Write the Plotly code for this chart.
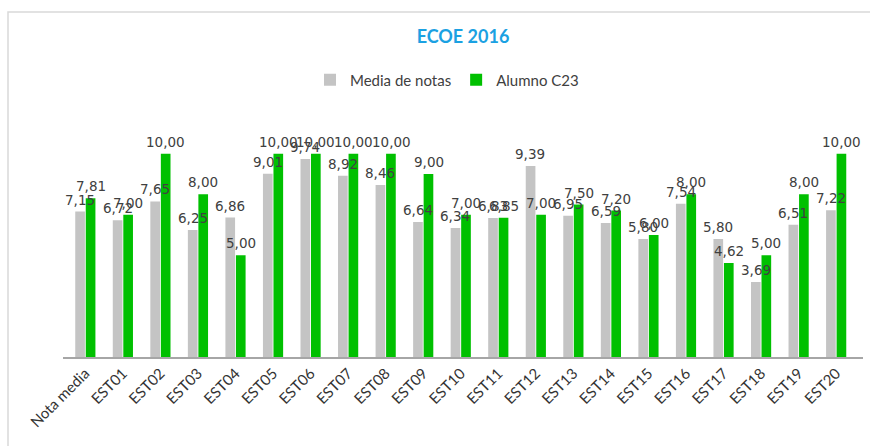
import plotly.graph_objects as go

categories = ["Nota media", "EST01", "EST02", "EST03", "EST04", "EST05", "EST06", "EST07",
              "EST08", "EST09", "EST10", "EST11", "EST12", "EST13", "EST14", "EST15",
              "EST16", "EST17", "EST18", "EST19", "EST20"]
media_notas = [7.15, 6.72, 7.65, 6.25, 6.86, 9.01, 9.74, 8.92, 8.46, 6.64, 6.34,
               6.83, 9.39, 6.95, 6.59, 5.80, 7.54, 5.80, 3.69, 6.51, 7.22]
alumno_c23 = [7.81, 7.00, 10.00, 8.00, 5.00, 10.00, 10.00, 10.00, 10.00, 9.00, 7.00,
              6.85, 7.00, 7.50, 7.20, 6.00, 8.00, 4.62, 5.00, 8.00, 10.00]


def fmt(v):
    return f"{v:.2f}".replace(".", ",")


W, H = 870, 446
ML, MR, MT, MB = 63, 7, 113, 89
PW = W - ML - MR
PH = H - MT - MB

label_font = dict(family="DejaVu Sans", size=13.5, color="#404040")

fig = go.Figure()
fig.add_trace(go.Bar(
    name="Media de notas", x=categories, y=media_notas,
    marker=dict(color="#c4c4c4", line=dict(width=0)), hoverinfo="x+y",
))
fig.add_trace(go.Bar(
    name="Alumno C23", x=categories, y=alumno_c23,
    marker=dict(color="#00c000", line=dict(width=0)), hoverinfo="x+y",
))

# data labels on top of all bars (Excel style: drawn above every series)
cat_w = PW / len(categories)
shift = cat_w * (1 - 0.44) / 4
annotations = []
for c, v in zip(categories, media_notas):
    annotations.append(dict(x=c, y=v, xref="x", yref="y", text=fmt(v), showarrow=False,
                            xanchor="center", yanchor="bottom", xshift=-shift, yshift=2,
                            font=label_font))
for c, v in zip(categories, alumno_c23):
    annotations.append(dict(x=c, y=v, xref="x", yref="y", text=fmt(v), showarrow=False,
                            xanchor="center", yanchor="bottom", xshift=shift, yshift=2,
                            font=label_font))


def px_x(p):
    return (p - ML) / PW


def px_y(p):
    return (H - MB - p) / PH


fig.update_layout(
    width=W, height=H,
    margin=dict(l=ML, r=MR, t=MT, b=MB),
    paper_bgcolor="white", plot_bgcolor="white",
    barmode="group", bargap=0.44, bargroupgap=0.08,
    title=dict(text="<b>ECOE 2016</b>", x=0.5, xref="paper", xanchor="center",
               y=1 - 37 / H, yref="container", yanchor="middle",
               font=dict(family="Lato", size=18, color="#1ba1e2")),
    legend=dict(orientation="h", x=0.48, xanchor="center", y=px_y(80), yanchor="middle",
                font=dict(family="Lato", size=15, color="#404040"),
                traceorder="normal", itemwidth=30, bgcolor="rgba(0,0,0,0)"),
    xaxis=dict(type="category", showline=True, linecolor="#a6a6a6", linewidth=1.5,
               ticks="", tickangle=-45,
               tickfont=dict(family="Lato", size=15, color="#333333"),
               showgrid=False, zeroline=False),
    yaxis=dict(range=[0, 12], showticklabels=False, showgrid=False, zeroline=False,
               showline=False, ticks=""),
    annotations=annotations,
    shapes=[dict(type="rect", xref="paper", yref="paper",
                 x0=px_x(8), x1=px_x(880), y0=px_y(460), y1=px_y(12),
                 line=dict(color="#d9d9d9", width=1.5), fillcolor="rgba(0,0,0,0)",
                 layer="below")],
    showlegend=True,
)

fig.write_html("out.html")
